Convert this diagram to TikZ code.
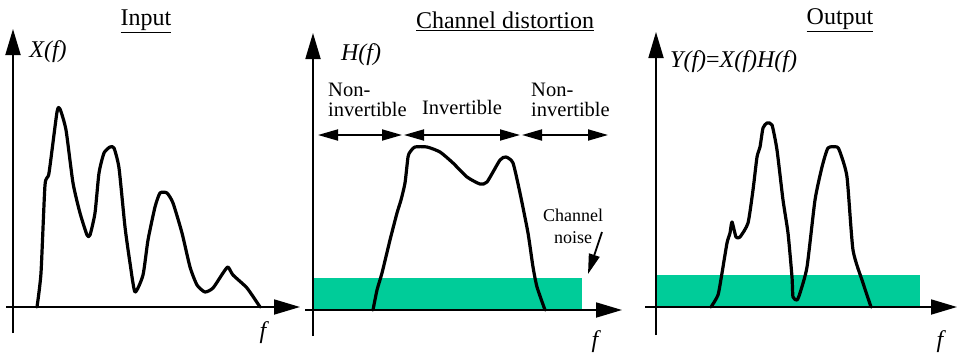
\documentclass[tikz,border=0pt]{standalone}
\usepackage{fontspec}
\setmainfont{Liberation Serif}
\usetikzlibrary{arrows.meta}
\definecolor{noisegreen}{RGB}{0,204,153}
\begin{document}
\begin{tikzpicture}[x=1pt,y=-1pt,
  axis/.style={line width=1.8pt,-{Triangle[length=26pt,width=15pt]}},
  spec/.style={line width=3.2pt,line join=round,line cap=round},
  span/.style={line width=1.8pt,{Triangle[length=20pt,width=11pt]}-{Triangle[length=20pt,width=11pt]}},
  ttl/.style={font=\fontsize{24}{26}\selectfont},
  lbl/.style={font=\fontsize{24}{26}\selectfont\itshape, inner sep=0pt},
  reg/.style={font=\fontsize{20.5}{20}\selectfont, align=left, inner sep=0pt},
  noise/.style={fill=noisegreen, draw=none}]
\useasboundingbox (0,0) rectangle (958,356);
% ---------- Panel 1 ----------
\coordinate (a1b) at (13,333); \coordinate (a1t) at (13,29);
\coordinate (h1l) at (6,307);  \coordinate (h1r) at (300,307);
\draw[axis] (a1b) -- (a1t);
\draw[axis] (h1l) -- (h1r);
\node[ttl] (t1) at (146,21) {\underline{Input}};
\node[lbl] (y1) at (48,52) {X(f)};
\node[lbl] (f1) at (263,333) {f};
\draw[spec] plot[smooth,tension=0.35] coordinates {
(37,307) (41,273) (45,185) (49,173) (57,112) (60,109) (66,130) (73,183) (80,213)
(87,235) (90,235) (95,213) (99,173) (104,153) (110,147) (114,148) (119,168)
(125,227) (130,263) (135,292) (143,275) (148,240) (155,207) (160,193) (167,193)
(173,203) (182,233) (190,267) (197,285) (205,292) (213,288) (223,273) (228,267)
(233,275) (247,288) (260,307)};
% ---------- Panel 2 ----------
\fill[noise] (313,278) rectangle (582,310);
\coordinate (a2b) at (313,336); \coordinate (a2t) at (313,33);
\coordinate (h2l) at (305,310); \coordinate (h2r) at (622,310);
\draw[axis] (a2b) -- (a2t);
\draw[axis] (h2l) -- (h2r);
\node[ttl] (t2) at (505,21) {\underline{Channel distortion}};
\node[lbl] (y2) at (361,55) {H(f)};
\node[lbl] (f2) at (595,342) {f};
\node[reg, anchor=north west] (ni1) at (328,83) {Non-\\invertible};
\node[reg] (inv) at (462,107) {Invertible};
\node[reg, anchor=north west] (ni2) at (531,83) {Non-\\invertible};
\coordinate (s1) at (318,135); \coordinate (s2) at (402,135);
\coordinate (s3) at (404,135); \coordinate (s4) at (520,135);
\coordinate (s5) at (522,135); \coordinate (s6) at (608,135);
\draw[span] (s1) -- (s2);
\draw[span] (s3) -- (s4);
\draw[span] (s5) -- (s6);
\node[font=\fontsize{18}{22}\selectfont, align=center, inner sep=0pt] (cn) at (573,226) {Channel\\noise};
\coordinate (cnA) at (602,232); \coordinate (cnB) at (588,274);
\draw[line width=1.8pt,-{Triangle[length=20pt,width=11pt]}] (cnA) -- (cnB);
\draw[spec] plot[smooth,tension=0.35] coordinates {
(373,310) (377,290) (382,273) (390,240) (397,213) (401,200) (405,183) (408,157)
(410,152) (415,147) (427,147) (440,152) (453,163) (467,177) (480,184) (487,182)
(500,160) (506,157) (513,163) (520,193) (528,233) (533,267) (537,287) (545,310)};
% ---------- Panel 3 ----------
\fill[noise] (657,275) rectangle (920,307);
\coordinate (a3b) at (656,335); \coordinate (a3t) at (656,32);
\coordinate (h3l) at (645,307); \coordinate (h3r) at (957,307);
\draw[axis] (a3b) -- (a3t);
\draw[axis] (h3l) -- (h3r);
\node[ttl] (t3) at (840,20) {\underline{Output}};
\node[lbl, anchor=west] (y3) at (670,62) {Y(f){\upshape =}X(f)H(f)};
\node[lbl] (f3) at (940,342) {f};
\draw[spec] plot[smooth,tension=0.35] coordinates {
(711,307) (718,295) (722,273) (727,243) (730,233) (732,222) (736,237) (740,237)
(748,223) (753,190) (757,157) (760,147) (763,128) (767,123) (772,125) (777,150)
(783,200) (788,233) (792,277) (793,297) (797,300) (800,293) (807,267) (815,200)
(822,167) (828,148) (837,147) (840,152) (847,177) (853,250) (863,283) (871,307)};
\end{tikzpicture}
\end{document}
